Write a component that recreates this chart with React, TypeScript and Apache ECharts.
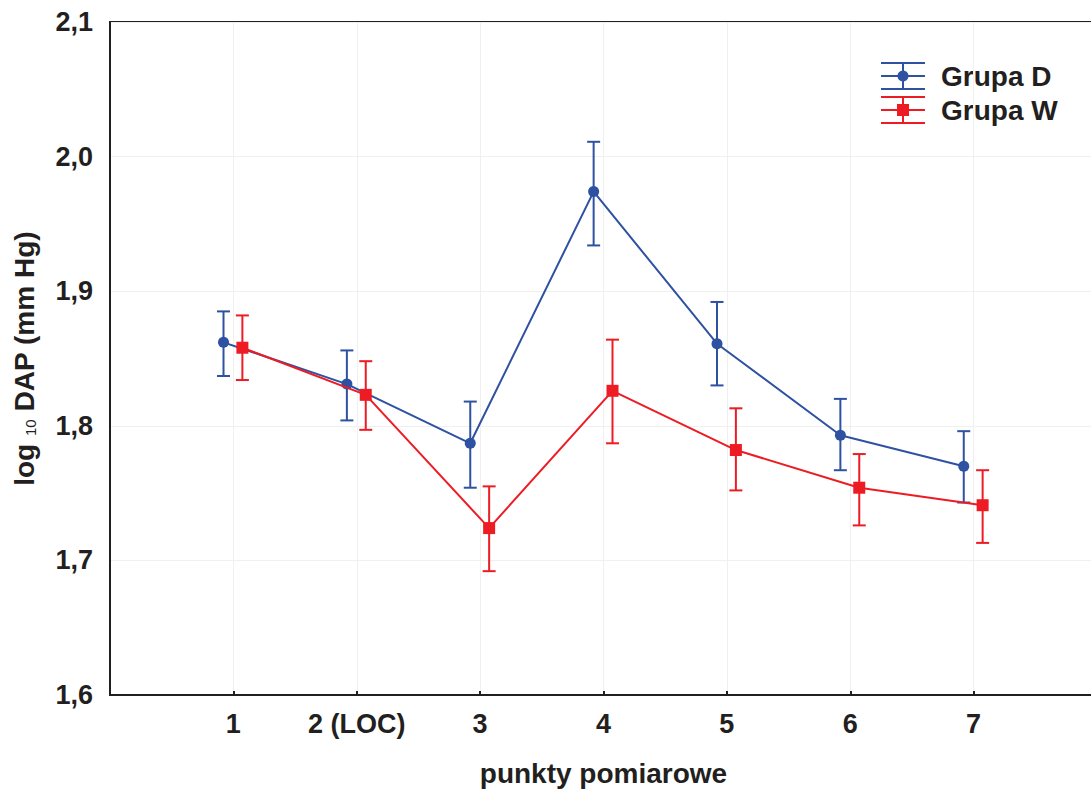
import React, { useEffect, useRef } from "react";
import * as echarts from "echarts";

const categories = ["1", "2 (LOC)", "3", "4", "5", "6", "7"];
const meanD = [1.862, 1.831, 1.787, 1.974, 1.861, 1.793, 1.770];
const upperD = [1.885, 1.856, 1.818, 2.011, 1.892, 1.820, 1.796];
const lowerD = [1.837, 1.804, 1.754, 1.934, 1.830, 1.767, 1.743];
const meanW = [1.858, 1.823, 1.724, 1.826, 1.782, 1.754, 1.741];
const upperW = [1.882, 1.848, 1.755, 1.864, 1.813, 1.779, 1.767];
const lowerW = [1.834, 1.797, 1.692, 1.787, 1.752, 1.726, 1.713];
const seriesNames = ["Grupa D", "Grupa W"];
const yTicks = { min: 1.6, max: 2.1, interval: 0.1 };

const BLUE = "#2E51A2";
const RED = "#ED1C24";
const INK = "#231F20";
const FONT = "'Liberation Sans', Arial, sans-serif";
const OFF_D = -0.08;
const OFF_W = 0.073;

function errorSeries(name: string, color: string, lo: number[], hi: number[], off: number) {
  return {
    type: "custom",
    name: name + " err",
    z: 2,
    data: lo.map((l, i) => [i + 1 + off, l, hi[i]]),
    renderItem: (params: any, api: any) => {
      const x = api.value(0);
      const a = api.coord([x, api.value(1)]);
      const b = api.coord([x, api.value(2)]);
      const w = 6.5;
      const style = { stroke: color, lineWidth: 2 };
      return {
        type: "group",
        children: [
          { type: "line", shape: { x1: a[0], y1: a[1], x2: b[0], y2: b[1] }, style },
          { type: "line", shape: { x1: a[0] - w, y1: a[1], x2: a[0] + w, y2: a[1] }, style },
          { type: "line", shape: { x1: b[0] - w, y1: b[1], x2: b[0] + w, y2: b[1] }, style },
        ],
      };
    },
  };
}

function legendItem(y: number, color: string, text: string, marker: any) {
  const st = { stroke: color, lineWidth: 2 };
  return [
    { type: "line", shape: { x1: 881, y1: y - 13, x2: 925, y2: y - 13 }, style: st },
    { type: "line", shape: { x1: 881, y1: y, x2: 925, y2: y }, style: st },
    { type: "line", shape: { x1: 881, y1: y + 13, x2: 925, y2: y + 13 }, style: st },
    { type: "line", shape: { x1: 903, y1: y - 13, x2: 903, y2: y + 13 }, style: st },
    marker,
    {
      type: "text",
      x: 941,
      y: y,
      style: { text, fill: INK, font: `bold 28px ${FONT}`, textVerticalAlign: "middle", textAlign: "left" },
    },
  ];
}

export default function App() {
  const ref = useRef<HTMLDivElement>(null);
  useEffect(() => {
    if (!ref.current) return;
    const chart = echarts.init(ref.current, undefined, { renderer: "svg" });
    chart.setOption({
      animation: false,
      backgroundColor: "#fff",
      grid: {
        left: 110, top: 22, width: 987, height: 673,
        outerBoundsMode: "none", containLabel: false,
        show: true, borderColor: INK, borderWidth: 2, backgroundColor: "transparent",
      },
      xAxis: {
        type: "value", min: 0, max: 8, interval: 1,
        name: "punkty pomiarowe", nameLocation: "middle", nameGap: 64,
        nameTextStyle: { fontFamily: FONT, fontWeight: "bold", fontSize: 28, color: INK },
        axisLine: { show: true, lineStyle: { color: INK, width: 2 } },
        axisTick: { show: true, inside: true, length: 4, lineStyle: { color: INK, width: 2 } },
        axisLabel: {
          margin: 15, fontFamily: FONT, fontWeight: "bold", fontSize: 27, color: INK,
          formatter: (v: number) => categories[Math.round(v) - 1] ?? "",
        },
        splitLine: { show: true, lineStyle: { color: "#F0F0F0", width: 1 } },
      },
      yAxis: {
        type: "value", min: yTicks.min, max: yTicks.max, interval: yTicks.interval,
        name: "{a|log }{s|10}{a| DAP (mm Hg)}", nameLocation: "middle", nameGap: 72, nameRotate: 90,
        nameTextStyle: {
          rich: {
            a: { fontFamily: FONT, fontWeight: "bold", fontSize: 28, color: INK },
            s: { fontFamily: FONT, fontSize: 15, color: INK, verticalAlign: "bottom", padding: [12, 0, 0, 0] },
          },
        },
        axisLine: { show: true, lineStyle: { color: INK, width: 2 } },
        axisTick: { show: false },
        axisLabel: {
          margin: 17, fontFamily: FONT, fontWeight: "bold", fontSize: 27, color: INK,
          formatter: (v: number) => v.toFixed(1).replace(".", ","),
        },
        splitLine: { show: true, lineStyle: { color: "#F0F0F0", width: 1 } },
      },
      series: [
        errorSeries(seriesNames[0], BLUE, lowerD, upperD, OFF_D),
        {
          type: "line", name: seriesNames[0], z: 3,
          data: meanD.map((v, i) => [i + 1 + OFF_D, v]),
          symbol: "circle", symbolSize: 11,
          itemStyle: { color: BLUE },
          lineStyle: { color: BLUE, width: 2 },
        },
        errorSeries(seriesNames[1], RED, lowerW, upperW, OFF_W),
        {
          type: "line", name: seriesNames[1], z: 4,
          data: meanW.map((v, i) => [i + 1 + OFF_W, v]),
          symbol: "rect", symbolSize: 12,
          itemStyle: { color: RED },
          lineStyle: { color: RED, width: 2 },
        },
      ],
      graphic: [
        ...legendItem(76, BLUE, seriesNames[0], { type: "circle", shape: { cx: 903, cy: 76, r: 5.5 }, style: { fill: BLUE } }),
        ...legendItem(110, RED, seriesNames[1], { type: "rect", shape: { x: 897, y: 104, width: 12, height: 12 }, style: { fill: RED } }),
      ],
    });
    return () => chart.dispose();
  }, []);
  return <div ref={ref} style={{ position: "fixed", left: 0, top: 0, width: 1091, height: 789 }} />;
}
